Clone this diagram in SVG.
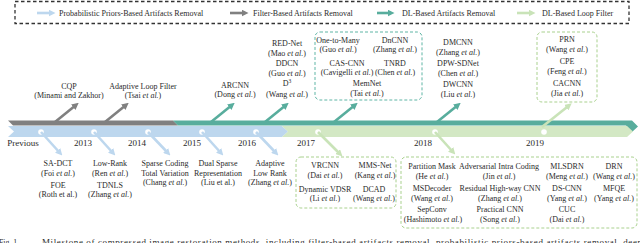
<svg xmlns="http://www.w3.org/2000/svg" width="640" height="243" viewBox="0 0 640 243">
<style>
text{font-family:"Liberation Serif","Times New Roman",serif;fill:#2a2a2a;font-size:8px;text-anchor:middle}
.yr{font-size:9px}
.lg{text-anchor:start}
.i{font-style:italic}
.cap{font-size:9px;text-anchor:start}
.gray{stroke:#808080}
.teal{stroke:#58ad9d}
.blue{stroke:#bdd7ee}
.green{stroke:#c9e3b8}
.arr{fill:none;stroke-width:2.6}
.boxT{fill:none;stroke:#5fb5a5;stroke-width:1;stroke-dasharray:3 2}
.boxG{fill:none;stroke:#a9d18e;stroke-width:1;stroke-dasharray:3 2}
</style>
<defs>
<marker id="mGray" viewBox="0 0 10 10" refX="5" refY="5" markerWidth="7" markerHeight="7" markerUnits="userSpaceOnUse" orient="auto"><path d="M0,0 L10,5 L0,10 z" fill="#808080"/></marker>
<marker id="mTeal" viewBox="0 0 10 10" refX="5" refY="5" markerWidth="7" markerHeight="7" markerUnits="userSpaceOnUse" orient="auto"><path d="M0,0 L10,5 L0,10 z" fill="#58ad9d"/></marker>
<marker id="mBlue" viewBox="0 0 10 10" refX="5" refY="5" markerWidth="7" markerHeight="7" markerUnits="userSpaceOnUse" orient="auto"><path d="M0,0 L10,5 L0,10 z" fill="#bdd7ee"/></marker>
<marker id="mGreen" viewBox="0 0 10 10" refX="5" refY="5" markerWidth="7" markerHeight="7" markerUnits="userSpaceOnUse" orient="auto"><path d="M0,0 L10,5 L0,10 z" fill="#c9e3b8"/></marker>
</defs>
<rect width="640" height="243" fill="#ffffff"/>

<g id="legend">
<rect x="15" y="1.5" width="614" height="22" fill="none" stroke="#333" stroke-width="1.3" stroke-dasharray="3.5 2.5"/>
<line x1="37" y1="13" x2="52" y2="13" class="arr blue" stroke-width="3" marker-end="url(#mBlue)"/>
<text x="59" y="15.6" class="lg">Probabilistic Priors-Based Artifacts Removal</text>
<line x1="230" y1="13" x2="245" y2="13" class="arr gray" stroke-width="3" marker-end="url(#mGray)"/>
<text x="253" y="15.6" class="lg">Filter-Based Artifacts Removal</text>
<line x1="377" y1="13" x2="391" y2="13" class="arr teal" stroke-width="3" marker-end="url(#mTeal)"/>
<text x="402" y="15.6" class="lg">DL-Based Artifacts Removal</text>
<line x1="517" y1="13" x2="532" y2="13" class="arr green" stroke-width="3" marker-end="url(#mGreen)"/>
<text x="542" y="15.6" class="lg">DL-Based Loop Filter</text>
</g>

<g id="timeline">
<polygon points="8,120.5 173,120.5 178,125.5 13,125.5" fill="#808080"/>
<polygon points="173,120.5 632,120.5 638,126.5 632,132 626,125.5 178,125.5" fill="#58ad9d"/>
<polygon points="8,126 282,126 288,131.5 282,137 8,137 14,131.5" fill="#bdd7ee"/>
<polygon points="282,126 627,126 633,131.5 627,137 282,137 288,131.5" fill="#d3e8c4"/>
<polygon points="626,125.5 632,132 630,134 624,127" fill="#58ad9d" opacity="0"/>
<g fill="#ffffff">
<circle cx="41" cy="132" r="2.8"/><circle cx="94" cy="132" r="2.8"/><circle cx="148" cy="132" r="2.8"/><circle cx="202" cy="132" r="2.8"/><circle cx="256" cy="132" r="2.8"/><circle cx="318" cy="132" r="2.8"/><circle cx="435" cy="132" r="2.8"/><circle cx="544" cy="132" r="2.8"/>
</g>
<text class="yr" x="23" y="146">Previous</text>
<text class="yr" x="83" y="146">2013</text>
<text class="yr" x="137" y="146">2014</text>
<text class="yr" x="192" y="146">2015</text>
<text class="yr" x="247" y="146">2016</text>
<text class="yr" x="306" y="146">2017</text>
<text class="yr" x="423" y="146">2018</text>
<text class="yr" x="535" y="146">2019</text>
</g>

<g id="connectors">
<line x1="55" y1="122" x2="76" y2="105" class="arr gray" marker-end="url(#mGray)"/>
<line x1="105" y1="122" x2="126" y2="105" class="arr gray" marker-end="url(#mGray)"/>
<line x1="211" y1="122" x2="232" y2="105" class="arr teal" marker-end="url(#mTeal)"/>
<line x1="265" y1="122" x2="286" y2="105" class="arr teal" marker-end="url(#mTeal)"/>
<line x1="334" y1="122" x2="355" y2="105" class="arr teal" marker-end="url(#mTeal)"/>
<line x1="437" y1="122" x2="458" y2="105" class="arr teal" marker-end="url(#mTeal)"/>
<line x1="542" y1="127" x2="569" y2="105.5" class="arr green" marker-end="url(#mGreen)"/>
<line x1="41" y1="132" x2="60" y2="153" class="arr blue" stroke-width="2.3" marker-end="url(#mBlue)"/>
<line x1="94" y1="132" x2="113" y2="153" class="arr blue" stroke-width="2.3" marker-end="url(#mBlue)"/>
<line x1="148" y1="132" x2="168" y2="153" class="arr blue" stroke-width="2.3" marker-end="url(#mBlue)"/>
<line x1="202" y1="132" x2="221" y2="153" class="arr blue" stroke-width="2.3" marker-end="url(#mBlue)"/>
<line x1="256" y1="132" x2="276" y2="153" class="arr blue" stroke-width="2.3" marker-end="url(#mBlue)"/>
<line x1="318" y1="132" x2="340" y2="154" class="arr green" stroke-width="2.3" marker-end="url(#mGreen)"/>
<line x1="435" y1="132" x2="453" y2="152" class="arr green" stroke-width="2.3" marker-end="url(#mGreen)"/>
</g>

<g id="cqp">
<text x="69" y="89">CQP</text>
<text x="69" y="98">(Minami and Zakhor)</text>
</g>
<g id="alf">
<text x="143" y="88.5">Adaptive Loop Filter</text>
<text x="143" y="98">(Tsai <tspan class="i">et al.</tspan>)</text>
</g>
<g id="arcnn">
<text x="235" y="88">ARCNN</text>
<text x="235" y="97">(Dong <tspan class="i">et al.</tspan>)</text>
</g>
<g id="rednet">
<text x="287" y="45.5">RED-Net</text>
<text x="287" y="55.5">(Mao <tspan class="i">et al.</tspan>)</text>
<text x="287" y="65.5">DDCN</text>
<text x="287" y="75.5">(Guo <tspan class="i">et al.</tspan>)</text>
<text x="287" y="86">D<tspan dy="-3" font-size="5.5">3</tspan></text>
<text x="287" y="96.5">(Wang <tspan class="i">et al.</tspan>)</text>
</g>
<g id="dl2017">
<rect x="315" y="32" width="107" height="68" rx="5" class="boxT"/>
<text x="338" y="42.7">One-to-Many</text>
<text x="338" y="51.7">(Guo <tspan class="i">et al.</tspan>)</text>
<text x="395" y="42.7">DnCNN</text>
<text x="395" y="51.7">(Zhang <tspan class="i">et al.</tspan>)</text>
<text x="347" y="65.7">CAS-CNN</text>
<text x="347" y="74.7">(Cavigelli <tspan class="i">et al.</tspan>)</text>
<text x="395" y="65.7">TNRD</text>
<text x="395" y="74.7">(Chen <tspan class="i">et al.</tspan>)</text>
<text x="367" y="85.7">MemNet</text>
<text x="367" y="95.5">(Tai <tspan class="i">et al.</tspan>)</text>
</g>
<g id="dmcnn">
<text x="458" y="44.7">DMCNN</text>
<text x="458" y="54.7">(Zhang <tspan class="i">et al.</tspan>)</text>
<text x="458" y="65.7">DPW-SDNet</text>
<text x="458" y="75.7">(Chen <tspan class="i">et al.</tspan>)</text>
<text x="458" y="87.3">DWCNN</text>
<text x="458" y="96.7">(Liu <tspan class="i">et al.</tspan>)</text>
</g>
<g id="lf2019">
<rect x="537" y="32" width="60" height="70" rx="5" class="boxG"/>
<text x="567" y="41.7">PRN</text>
<text x="567" y="51.7">(Wang <tspan class="i">et al.</tspan>)</text>
<text x="567" y="63.7">CPE</text>
<text x="567" y="73.7">(Feng <tspan class="i">et al.</tspan>)</text>
<text x="567" y="85.7">CACNN</text>
<text x="567" y="95.7">(Jia <tspan class="i">et al.</tspan>)</text>
</g>

<g id="prev">
<text x="58" y="165.7">SA-DCT</text>
<text x="58" y="175.7">(Foi <tspan class="i">et al.</tspan>)</text>
<text x="58" y="187.7">FOE</text>
<text x="58" y="196.7">(Roth et al.)</text>
</g>
<g id="p2013">
<text x="110" y="165.7">Low-Rank</text>
<text x="110" y="175.7">(Ren <tspan class="i">et al.</tspan>)</text>
<text x="110" y="187.7">TDNLS</text>
<text x="110" y="196.7">(Zhang <tspan class="i">et al.</tspan>)</text>
</g>
<g id="p2014">
<text x="165" y="165.7">Sparse Coding</text>
<text x="165" y="175.7">Total Variation</text>
<text x="165" y="185.3">(Chang <tspan class="i">et al.</tspan>)</text>
</g>
<g id="p2015">
<text x="218" y="165.7">Dual Sparse</text>
<text x="218" y="175.7">Representation</text>
<text x="218" y="185">(Liu et al.)</text>
</g>
<g id="p2016">
<text x="270" y="165.7">Adaptive</text>
<text x="270" y="175.7">Low Rank</text>
<text x="270" y="185">(Zhang <tspan class="i">et al.</tspan>)</text>
</g>
<g id="lf2017">
<rect x="296" y="157" width="100" height="51" rx="5" class="boxG"/>
<text x="325" y="167.7">VRCNN</text>
<text x="325" y="177.7">(Dai <tspan class="i">et al.</tspan>)</text>
<text x="375" y="167.7">MMS-Net</text>
<text x="375" y="177.7">(Kang <tspan class="i">et al.</tspan>)</text>
<text x="325" y="191.7">Dynamic VDSR</text>
<text x="325" y="200.7">(Li <tspan class="i">et al.</tspan>)</text>
<text x="374" y="191.7">DCAD</text>
<text x="374" y="200.7">(Wang <tspan class="i">et al.</tspan>)</text>
</g>
<g id="lf2018">
<rect x="401" y="157" width="236" height="71" rx="5" class="boxG"/>
<text x="432" y="168.7">Partition Mask</text>
<text x="432" y="178.7">(He <tspan class="i">et al.</tspan>)</text>
<text x="432" y="190.7">MSDecoder</text>
<text x="432" y="200.7">(Wang <tspan class="i">et al.</tspan>)</text>
<text x="432" y="211.7">SepConv</text>
<text x="433" y="221.7">(Hashimoto <tspan class="i">et al.</tspan>)</text>
<text x="499" y="168.7">Adversarial Intra Coding</text>
<text x="499" y="178.7">(Jin <tspan class="i">et al.</tspan>)</text>
<text x="500" y="190.7">Residual High-way CNN</text>
<text x="500" y="200.7">(Zhang <tspan class="i">et al.</tspan>)</text>
<text x="500" y="211.7">Practical CNN</text>
<text x="500" y="221.7">(Song <tspan class="i">et al.</tspan>)</text>
<text x="567" y="168.7">MLSDRN</text>
<text x="567" y="178.7">(Meng <tspan class="i">et al.</tspan>)</text>
<text x="567" y="190.7">DS-CNN</text>
<text x="567" y="200.7">(Yang <tspan class="i">et al.</tspan>)</text>
<text x="567" y="211.7">CUC</text>
<text x="567" y="221.7">(Dai <tspan class="i">et al.</tspan>)</text>
<text x="614" y="168.7">DRN</text>
<text x="614" y="178.7">(Wang <tspan class="i">et al.</tspan>)</text>
<text x="614" y="190.7">MFQE</text>
<text x="614" y="200.7">(Yang <tspan class="i">et al.</tspan>)</text>
</g>

<g id="caption">
<text class="cap" x="-1" y="244.5" textLength="20" lengthAdjust="spacingAndGlyphs">Fig. 1.</text>
<text class="cap" x="42" y="244.5" textLength="600" lengthAdjust="spacing">Milestone of compressed image restoration methods, including filter-based artifacts removal, probabilistic priors-based artifacts removal, deep</text>
</g>
</svg>
